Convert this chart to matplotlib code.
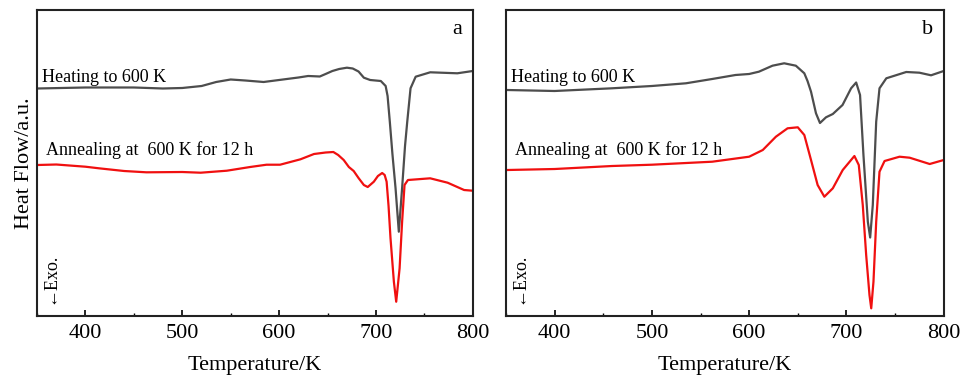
import matplotlib
matplotlib.use("Agg")
import matplotlib.pyplot as plt
from matplotlib.ticker import MultipleLocator

plt.rcParams['font.family'] = ['Liberation Serif', 'DejaVu Serif']

# panel a, heating to 600 K (grey)
tA_heat = [350, 400, 450, 480, 500, 520, 535, 550, 565, 584, 600, 620, 630, 642, 648, 655, 662, 670,
           676, 682, 687.5, 694, 705, 710, 712, 714.3, 717, 720.2, 723.6, 727, 730, 732.3, 735.7,
           741, 756, 784, 800]
hA_heat = [2.275, 2.285, 2.285, 2.275, 2.28, 2.30, 2.34, 2.365, 2.355, 2.34, 2.36, 2.385, 2.40,
           2.395, 2.42, 2.45, 2.47, 2.483, 2.475, 2.445, 2.383, 2.36, 2.35, 2.30, 2.20, 1.943,
           1.62, 1.28, 0.843, 1.28, 1.70, 1.943, 2.277, 2.393, 2.437, 2.427, 2.45]
# panel a, annealed (red)
tA_ann = [350, 370, 400, 414, 440, 463, 500, 519, 546, 570, 587, 601, 622, 636, 648, 656, 661,
          666.7, 672, 677, 682, 687.5, 691.5, 697.8, 702, 706.4, 709, 711, 713, 715, 718.5, 720.9,
          724.4, 727, 729.5, 733, 756, 774, 791, 800]
hA_ann = [1.51, 1.515, 1.493, 1.477, 1.45, 1.437, 1.44, 1.433, 1.453, 1.49, 1.513, 1.513, 1.567,
          1.62, 1.635, 1.64, 1.61, 1.56, 1.49, 1.45, 1.38, 1.31, 1.29, 1.343, 1.40, 1.43, 1.41,
          1.343, 1.10, 0.78, 0.343, 0.143, 0.477, 0.943, 1.31, 1.36, 1.377, 1.333, 1.26, 1.253]

# panel b, heating to 600 K (grey)
tB_heat = [351, 400, 459, 500, 535, 562, 586, 600, 610, 624, 636, 648, 656.7, 660, 663.6, 668.7,
           672.8, 679, 686, 696, 704.8, 710, 714, 717.5, 722, 724.4, 727.1, 730.6, 734, 741,
           761.5, 775, 787, 800]
hB_heat = [2.26, 2.25, 2.277, 2.30, 2.327, 2.37, 2.41, 2.42, 2.443, 2.503, 2.527, 2.503, 2.427,
           2.35, 2.243, 2.027, 1.93, 1.987, 2.02, 2.11, 2.277, 2.335, 2.21, 1.61, 0.943, 0.785,
           1.11, 1.943, 2.277, 2.377, 2.44, 2.433, 2.407, 2.45]
# panel b, annealed (red)
tB_ann = [351, 400, 459, 500, 562, 600, 614, 627.5, 639.5, 650, 656.7, 663.6, 670.4, 677.3, 686,
          696.2, 708.2, 712.7, 716.8, 720.3, 723.7, 725.5, 727.8, 730.6, 734, 739.2, 754.6, 765,
          785.6, 800]
hB_ann = [1.46, 1.47, 1.50, 1.513, 1.543, 1.593, 1.66, 1.793, 1.877, 1.887, 1.81, 1.56, 1.31,
          1.193, 1.277, 1.46, 1.60, 1.51, 1.11, 0.61, 0.21, 0.077, 0.343, 0.943, 1.443, 1.55,
          1.593, 1.583, 1.52, 1.56]

panels = [
    ("a", tA_heat, hA_heat, tA_ann, hA_ann, [0.0385, 0.177, 0.4535, 0.797]),
    ("b", tB_heat, hB_heat, tB_ann, hB_ann, [0.5265, 0.177, 0.4555, 0.797]),
]

fig = plt.figure(figsize=(9.61, 3.84), dpi=100)

for i, (tag, t1, h1, t2, h2, rect) in enumerate(panels):
    ax = fig.add_axes(rect)
    ax.plot(t1, h1, color='#4d4d4d', lw=1.6)
    ax.plot(t2, h2, color='#f01010', lw=1.6)
    ax.set_xlim(350, 800)
    ax.set_ylim(0, 3.06)
    ax.xaxis.set_major_locator(MultipleLocator(100))
    ax.xaxis.set_minor_locator(MultipleLocator(50))
    ax.tick_params(axis='x', which='major', direction='in', length=4, width=1.2, labelsize=16, pad=6)
    ax.tick_params(axis='x', which='minor', direction='in', length=2.5, width=1.0)
    ax.set_yticks([])
    for s in ax.spines.values():
        s.set_linewidth(1.5)
        s.set_color('#222222')
    ax.set_xlabel("Temperature/K", fontsize=16, labelpad=9)
    if i == 0:
        ax.set_ylabel("Heat Flow/a.u.", fontsize=16, labelpad=2)
    ax.text(0.975, 0.935, tag, transform=ax.transAxes, fontsize=16, ha='right', va='center')
    ax.text(0.012, 0.765, "Heating to 600 K", transform=ax.transAxes, fontsize=13,
            ha='left', va='baseline')
    ax.text(0.02, 0.525, "Annealing at  600 K for 12 h", transform=ax.transAxes, fontsize=13,
            ha='left', va='baseline')
    ax.text(0.03, 0.04, "\u2190Exo.", transform=ax.transAxes, fontsize=13, rotation=90,
            ha='center', va='bottom')

fig.savefig("out.png", dpi=100)
